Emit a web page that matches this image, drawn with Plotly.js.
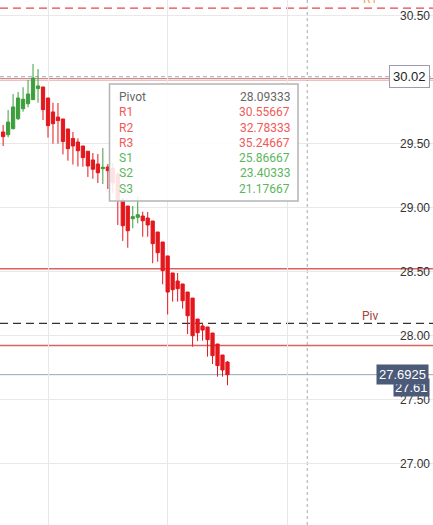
<!DOCTYPE html>
<html>
<head>
<meta charset="utf-8">
<script src="https://cdn.plot.ly/plotly-3.0.1.min.js"></script>
<style>
  html, body { margin: 0; padding: 0; background: #fff; }
  #chart { width: 433px; height: 525px; }
</style>
</head>
<body>
<div id="chart"></div>
<script>
// ---- candle data ----
const openP  = [29.588,29.567,29.614,29.692,29.770,29.809,29.841,29.927,29.940,29.854,
                29.745,29.705,29.690,29.612,29.538,29.510,29.479,29.438,29.370,29.338,
                29.302,29.315,29.303,29.260,29.057,29.010,28.911,28.922,28.932,28.916,
                28.893,28.807,28.729,28.620,28.487,28.424,28.401,28.338,28.291,28.127,
                28.073,28.065,28.018,27.932,27.846,27.791];
const highP  = [29.643,29.760,29.885,29.901,29.938,29.995,30.120,30.080,29.940,29.854,
                29.817,29.815,29.690,29.612,29.588,29.538,29.479,29.440,29.424,29.416,
                29.463,29.338,29.345,29.276,29.073,29.010,29.010,29.088,28.966,28.963,
                28.893,28.807,28.729,28.620,28.487,28.487,28.401,28.338,28.291,28.127,
                28.096,28.065,28.018,27.932,27.846,27.799];
const lowP   = [29.479,29.547,29.609,29.682,29.747,29.781,29.838,29.817,29.682,29.544,
                29.497,29.497,29.413,29.364,29.334,29.319,29.317,29.237,29.223,29.190,
                29.182,29.143,29.112,28.862,28.737,28.684,28.836,28.875,28.770,28.770,
                28.563,28.575,28.398,28.163,28.263,28.263,28.208,28.010,27.911,27.955,
                27.958,27.833,27.776,27.677,27.677,27.610];
const closeP = [29.552,29.666,29.784,29.854,29.844,29.885,30.010,29.948,29.763,29.638,
                29.653,29.677,29.514,29.458,29.479,29.442,29.388,29.323,29.297,29.270,
                29.313,29.286,29.190,29.057,28.856,28.817,28.927,28.942,28.895,28.862,
                28.716,28.645,28.505,28.338,28.356,28.364,28.270,28.153,27.997,28.020,
                28.041,27.966,27.841,27.763,27.729,27.6925];
const barIndex = openP.map((_, i) => i);

// ---- pivot table ----
const pivotNames  = ['Pivot', 'R1', 'R2', 'R3', 'S1', 'S2', 'S3'];
const pivotValues = [28.09333, 30.55667, 32.78333, 35.24667, 25.86667, 23.40333, 21.17667];
const pivotColors = ['#666666', '#ef5a5a', '#ef5a5a', '#ef5a5a', '#5cb65c', '#5cb65c', '#5cb65c'];

// ---- other levels ----
const resistanceLevels = [30.00, 28.52, 27.92];
const highMarkLevel = 30.02;
const lastPrice = 27.6925;
const lastLowLabel = '27.61';
const lastLowLevel = 27.61;
const cursorX = 61;

const W = 433, H = 525;
const px = v => v / W;
const py = v => 1 - v / H;

const trace = {
  type: 'candlestick',
  x: barIndex,
  open: openP, high: highP, low: lowP, close: closeP,
  increasing: { line: { color: '#3d9e3d', width: 1 }, fillcolor: '#3d9e3d' },
  decreasing: { line: { color: '#e4171d', width: 1 }, fillcolor: '#e4171d' },
  whiskerwidth: 0,
  hoverinfo: 'skip',
  showlegend: false
};

const shapes = [];
shapes.push({ type: 'line', xref: 'paper', x0: 0, x1: 1, yref: 'y', y0: highMarkLevel, y1: highMarkLevel,
  line: { color: '#a3a3b6', width: 1, dash: '4px,3px' }, layer: 'between' });
resistanceLevels.forEach((lv, i) => {
  shapes.push({ type: 'line', xref: 'paper', x0: 0, x1: 1, yref: 'y', y0: lv, y1: lv,
    line: { color: i === 0 ? 'rgba(214,110,110,0.85)' : 'rgba(214,70,70,0.85)', width: i === 0 ? 2.6 : 1.6 },
    layer: 'between' });
});
shapes.push({ type: 'line', xref: 'paper', x0: 0, x1: 1, yref: 'y', y0: pivotValues[1], y1: pivotValues[1],
  line: { color: '#e5474b', width: 1.3, dash: '8px,5px' }, layer: 'between' });
shapes.push({ type: 'line', xref: 'paper', x0: 0, x1: 1, yref: 'y', y0: pivotValues[0], y1: pivotValues[0],
  line: { color: '#333333', width: 1.3, dash: '8px,5px' }, layer: 'between' });
shapes.push({ type: 'line', xref: 'paper', x0: 0, x1: 1, yref: 'y', y0: lastPrice, y1: lastPrice,
  line: { color: '#9aa6b8', width: 1 }, layer: 'between' });
shapes.push({ type: 'line', xref: 'x', x0: cursorX, x1: cursorX, yref: 'paper', y0: 0, y1: 1,
  line: { color: '#a8a8a8', width: 1, dash: '3px,3px' }, layer: 'between' });
shapes.push({ type: 'rect', xref: 'paper', yref: 'paper',
  x0: px(109.5), x1: px(298), y0: py(201), y1: py(84),
  fillcolor: 'rgba(255,255,255,0.88)', line: { color: '#b4b4b4', width: 1.5 }, layer: 'above' });

const annotations = [];
const levelX = 73.6;
annotations.push({ xref: 'x', yref: 'y', x: levelX, y: pivotValues[1], text: 'R1', showarrow: false,
  yanchor: 'bottom', yshift: 0, font: { family: 'Roboto, Arial, sans-serif', size: 12, color: '#f0a04b' } });
annotations.push({ xref: 'x', yref: 'y', x: levelX, y: pivotValues[0], text: 'Piv', showarrow: false,
  yanchor: 'bottom', yshift: -2, font: { family: 'Roboto, Arial, sans-serif', size: 12, color: '#a0463c' } });

const rowY0 = 97, rowStep = 15.25;
pivotNames.forEach((name, i) => {
  annotations.push({ xref: 'paper', yref: 'paper', x: px(117), y: py(rowY0 + i * rowStep),
    xanchor: 'left', yanchor: 'middle', text: name, showarrow: false,
    font: { family: 'Roboto, sans-serif', size: 12, color: pivotColors[i] } });
  annotations.push({ xref: 'paper', yref: 'paper', x: px(292), y: py(rowY0 + i * rowStep),
    xanchor: 'right', yanchor: 'middle', text: pivotValues[i].toFixed(5), showarrow: false,
    font: { family: 'Roboto, sans-serif', size: 12, color: pivotColors[i] } });
});

annotations.push({ xref: 'paper', yref: 'y', x: px(430), y: highMarkLevel, xanchor: 'right', yanchor: 'middle',
  text: highMarkLevel.toFixed(2), showarrow: false, bgcolor: '#ffffff', bordercolor: '#a09cb0',
  borderwidth: 1, borderpad: 3, font: { family: 'Arial, sans-serif', size: 13, color: '#222' } });
annotations.push({ xref: 'paper', yref: 'y', x: px(430), y: lastLowLevel, yshift: -2, xanchor: 'right', yanchor: 'middle',
  text: lastLowLabel, showarrow: false, bgcolor: '#4b5a78', borderpad: 1,
  font: { family: 'Arial, sans-serif', size: 13, color: '#ffffff' } });
annotations.push({ xref: 'paper', yref: 'y', x: px(429), y: lastPrice, xanchor: 'right', yanchor: 'middle',
  text: lastPrice.toFixed(4), showarrow: false, bgcolor: '#4b5a78', borderpad: 2,
  font: { family: 'Arial, sans-serif', size: 13, color: '#ffffff' } });

const layout = {
  width: W, height: H,
  margin: { l: 0, r: 0, t: 0, b: 0, pad: 0 },
  paper_bgcolor: '#ffffff', plot_bgcolor: '#ffffff',
  showlegend: false,
  boxgap: 0.35, boxgroupgap: 0,
  xaxis: {
    range: [-0.627, 86.22], rangeslider: { visible: false },
    tickmode: 'linear', tick0: 9, dtick: 24, showticklabels: false, ticks: '',
    showgrid: true, gridcolor: '#e8e8e8', gridwidth: 1, zeroline: false, showline: false, fixedrange: true
  },
  yaxis: {
    range: [26.518, 30.6195], side: 'right', ticklabelposition: 'inside',
    tickmode: 'linear', tick0: 26.5, dtick: 0.5, tickformat: '.2f', ticks: '',
    showgrid: true, gridcolor: '#e8e8e8', gridwidth: 1, zeroline: false, showline: false,
    tickfont: { family: 'Arial, sans-serif', size: 12, color: '#333333' }, fixedrange: true
  },
  shapes: shapes,
  annotations: annotations
};

Plotly.newPlot('chart', [trace], layout, { displayModeBar: false, staticPlot: true });
</script>
</body>
</html>
